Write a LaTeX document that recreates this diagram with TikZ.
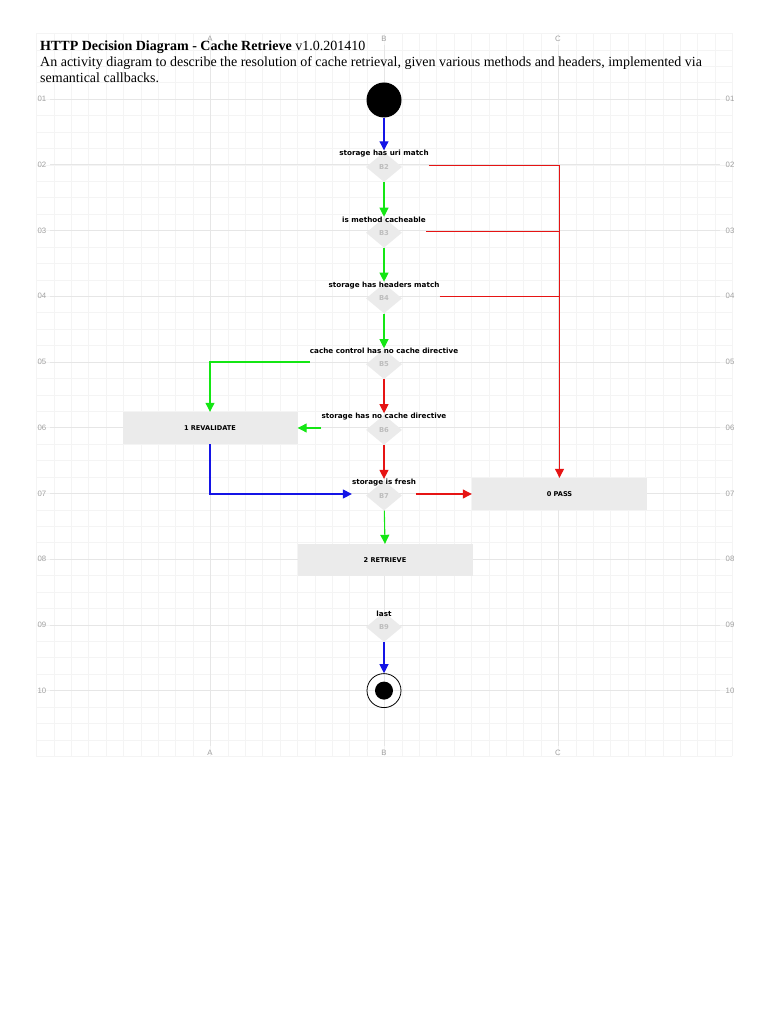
\documentclass[tikz,border=0pt]{standalone}
\usepackage{fontspec}
\setmainfont{Liberation Serif}
\setsansfont{Liberation Sans}
\newfontfamily\flowfont{DejaVu Sans}
\usetikzlibrary{positioning,arrows.meta,shapes.geometric}

\definecolor{gridminor}{HTML}{F4F4F4}
\definecolor{gridmajor}{HTML}{E6E6E6}
\definecolor{gridtext}{HTML}{A0A0A0}
\definecolor{tagtext}{HTML}{BDBDBD}
\definecolor{boxfill}{HTML}{EBEBEB}
\definecolor{flowblue}{HTML}{1414E6}
\definecolor{flowgreen}{HTML}{14E614}
\definecolor{flowred}{HTML}{E61414}

\begin{document}
\begin{tikzpicture}[
    x=1pt, y=-1pt,
    dec/.style={diamond, fill=boxfill, minimum width=36pt,
                minimum height=30pt, inner sep=0pt, text=tagtext,
                font=\flowfont\bfseries\fontsize{6.8}{7}\selectfont},
    dectext/.style={inner sep=0pt, font=\flowfont\bfseries\fontsize{7.2}{8}\selectfont},
    state/.style={fill=boxfill, minimum width=175pt, minimum height=32pt,
                  font=\flowfont\bfseries\fontsize{6.6}{7}\selectfont},
    gridlbl/.style={text=gridtext, inner sep=0pt,
                    font=\sffamily\fontsize{7.8}{8}\selectfont},
    arr/.style={-{Triangle[length=9pt,width=9pt]}, line width=1.1pt},
    barr/.style={arr, draw=flowblue, -{Triangle[length=9pt,width=9pt,fill=flowblue]}},
    garr/.style={arr, draw=flowgreen, -{Triangle[length=9pt,width=9pt,fill=flowgreen]}},
    rarr/.style={arr, draw=flowred, -{Triangle[length=9pt,width=9pt,fill=flowred]}},
    rline/.style={line width=1.1pt, draw=flowred}
]
  \useasboundingbox (0,0) rectangle (768,1024);

  % background grid
  \foreach \i in {0,...,40}
    \draw[gridminor, line width=0.5pt] ({36.4+17.4*\i},33.4) -- ({36.4+17.4*\i},755.6);
  \foreach \j in {0,...,44}
    \draw[gridminor, line width=0.5pt] (36.4,{33.4+16.43*\j}) -- (732.4,{33.4+16.43*\j});
  \foreach \c/\x in {A/210,B/384,C/558} {
    \draw[gridmajor, line width=0.6pt] (\x,45) -- (\x,746);
    \node[gridlbl] at (\x,39) {\c};
    \node[gridlbl] at (\x,753) {\c};
  }
  \foreach \r in {1,...,10} {
    \pgfmathsetmacro{\ry}{99+65.73*(\r-1)}
    \draw[gridmajor, line width=0.6pt] (50,\ry) -- (720,\ry);
    \node[gridlbl] at (42,\ry) {\ifnum\r<10 0\fi\r};
    \node[gridlbl] at (730,\ry) {\ifnum\r<10 0\fi\r};
  }

  % title
  \node[anchor=north west, inner sep=0pt, align=left,
        font=\fontsize{14}{16}\selectfont] (title) at (40,40.5)
    {\textbf{HTTP Decision Diagram - Cache Retrieve} v1.0.201410\\
     An activity diagram to describe the resolution of cache retrieval, given various methods and headers, implemented via\\
     semantical callbacks.};

  % start and end
  \node[circle, fill=black, minimum size=35pt, inner sep=0pt] (start) at (384,100) {};
  \node[circle, draw=black, line width=0.8pt, minimum size=34pt, inner sep=0pt] (end) at (384,690.6) {};
  \node[circle, fill=black, minimum size=18pt, inner sep=0pt] (endin) at (end) {};

  % decisions
  \node[dec] (b2) at (384,167) {B2};
  \node[dectext] (b2t) at (384,154) {storage has uri match};
  \node[dec] (b3) at (384,232.7) {B3};
  \node[dectext] (b3t) at (384,219.7) {is method cacheable};
  \node[dec] (b4) at (384,298.4) {B4};
  \node[dectext] (b4t) at (384,285.4) {storage has headers match};
  \node[dec] (b5) at (384,364.2) {B5};
  \node[dectext] (b5t) at (384,351.2) {cache control has no cache directive};
  \node[dec] (b6) at (384,429.9) {B6};
  \node[dectext] (b6t) at (384,416.9) {storage has no cache directive};
  \node[dec] (b7) at (384,495.6) {B7};
  \node[dectext] (b7t) at (384,482.6) {storage is fresh};
  \node[dec] (b9) at (384,627) {B9};
  \node[dectext] (b9t) at (384,614) {last};

  % states
  \node[state] (reval) at (210,428) {1 REVALIDATE};
  \node[state] (pass)  at (559.5,494) {0 PASS};
  \node[state] (retr)  at (385,560) {2 RETRIEVE};

  % connectors
  \draw[barr] (start) -- (b2t.north);
  \draw[garr] (b2) -- (b3t.north);
  \draw[garr] (b3) -- (b4t.north);
  \draw[garr] (b4) -- (b5t.north);
  \draw[rarr] (b5) -- (b6t.north);
  \draw[rarr] (b6) -- (b7t.north);
  \draw[garr] (b7) -- (retr.north);
  \draw[garr] (b5t.west |- 0,362) -| (reval.north);
  \draw[garr] (b6t.west |- reval) -- (reval.east);
  \draw[barr] (reval.south) |- (b7t.west |- pass);
  \draw[rarr] (b7t.east |- pass) -- (pass.west);
  \draw[rarr] (b2t.east |- 0,165.5) -| (pass.north);
  \draw[rline] (b3t.east |- 0,231.5) -- (pass.north |- 0,231.5);
  \draw[rline] (b4t.east |- 0,296.5) -- (pass.north |- 0,296.5);
  \draw[barr] (b9) -- (end);
\end{tikzpicture}
\end{document}
